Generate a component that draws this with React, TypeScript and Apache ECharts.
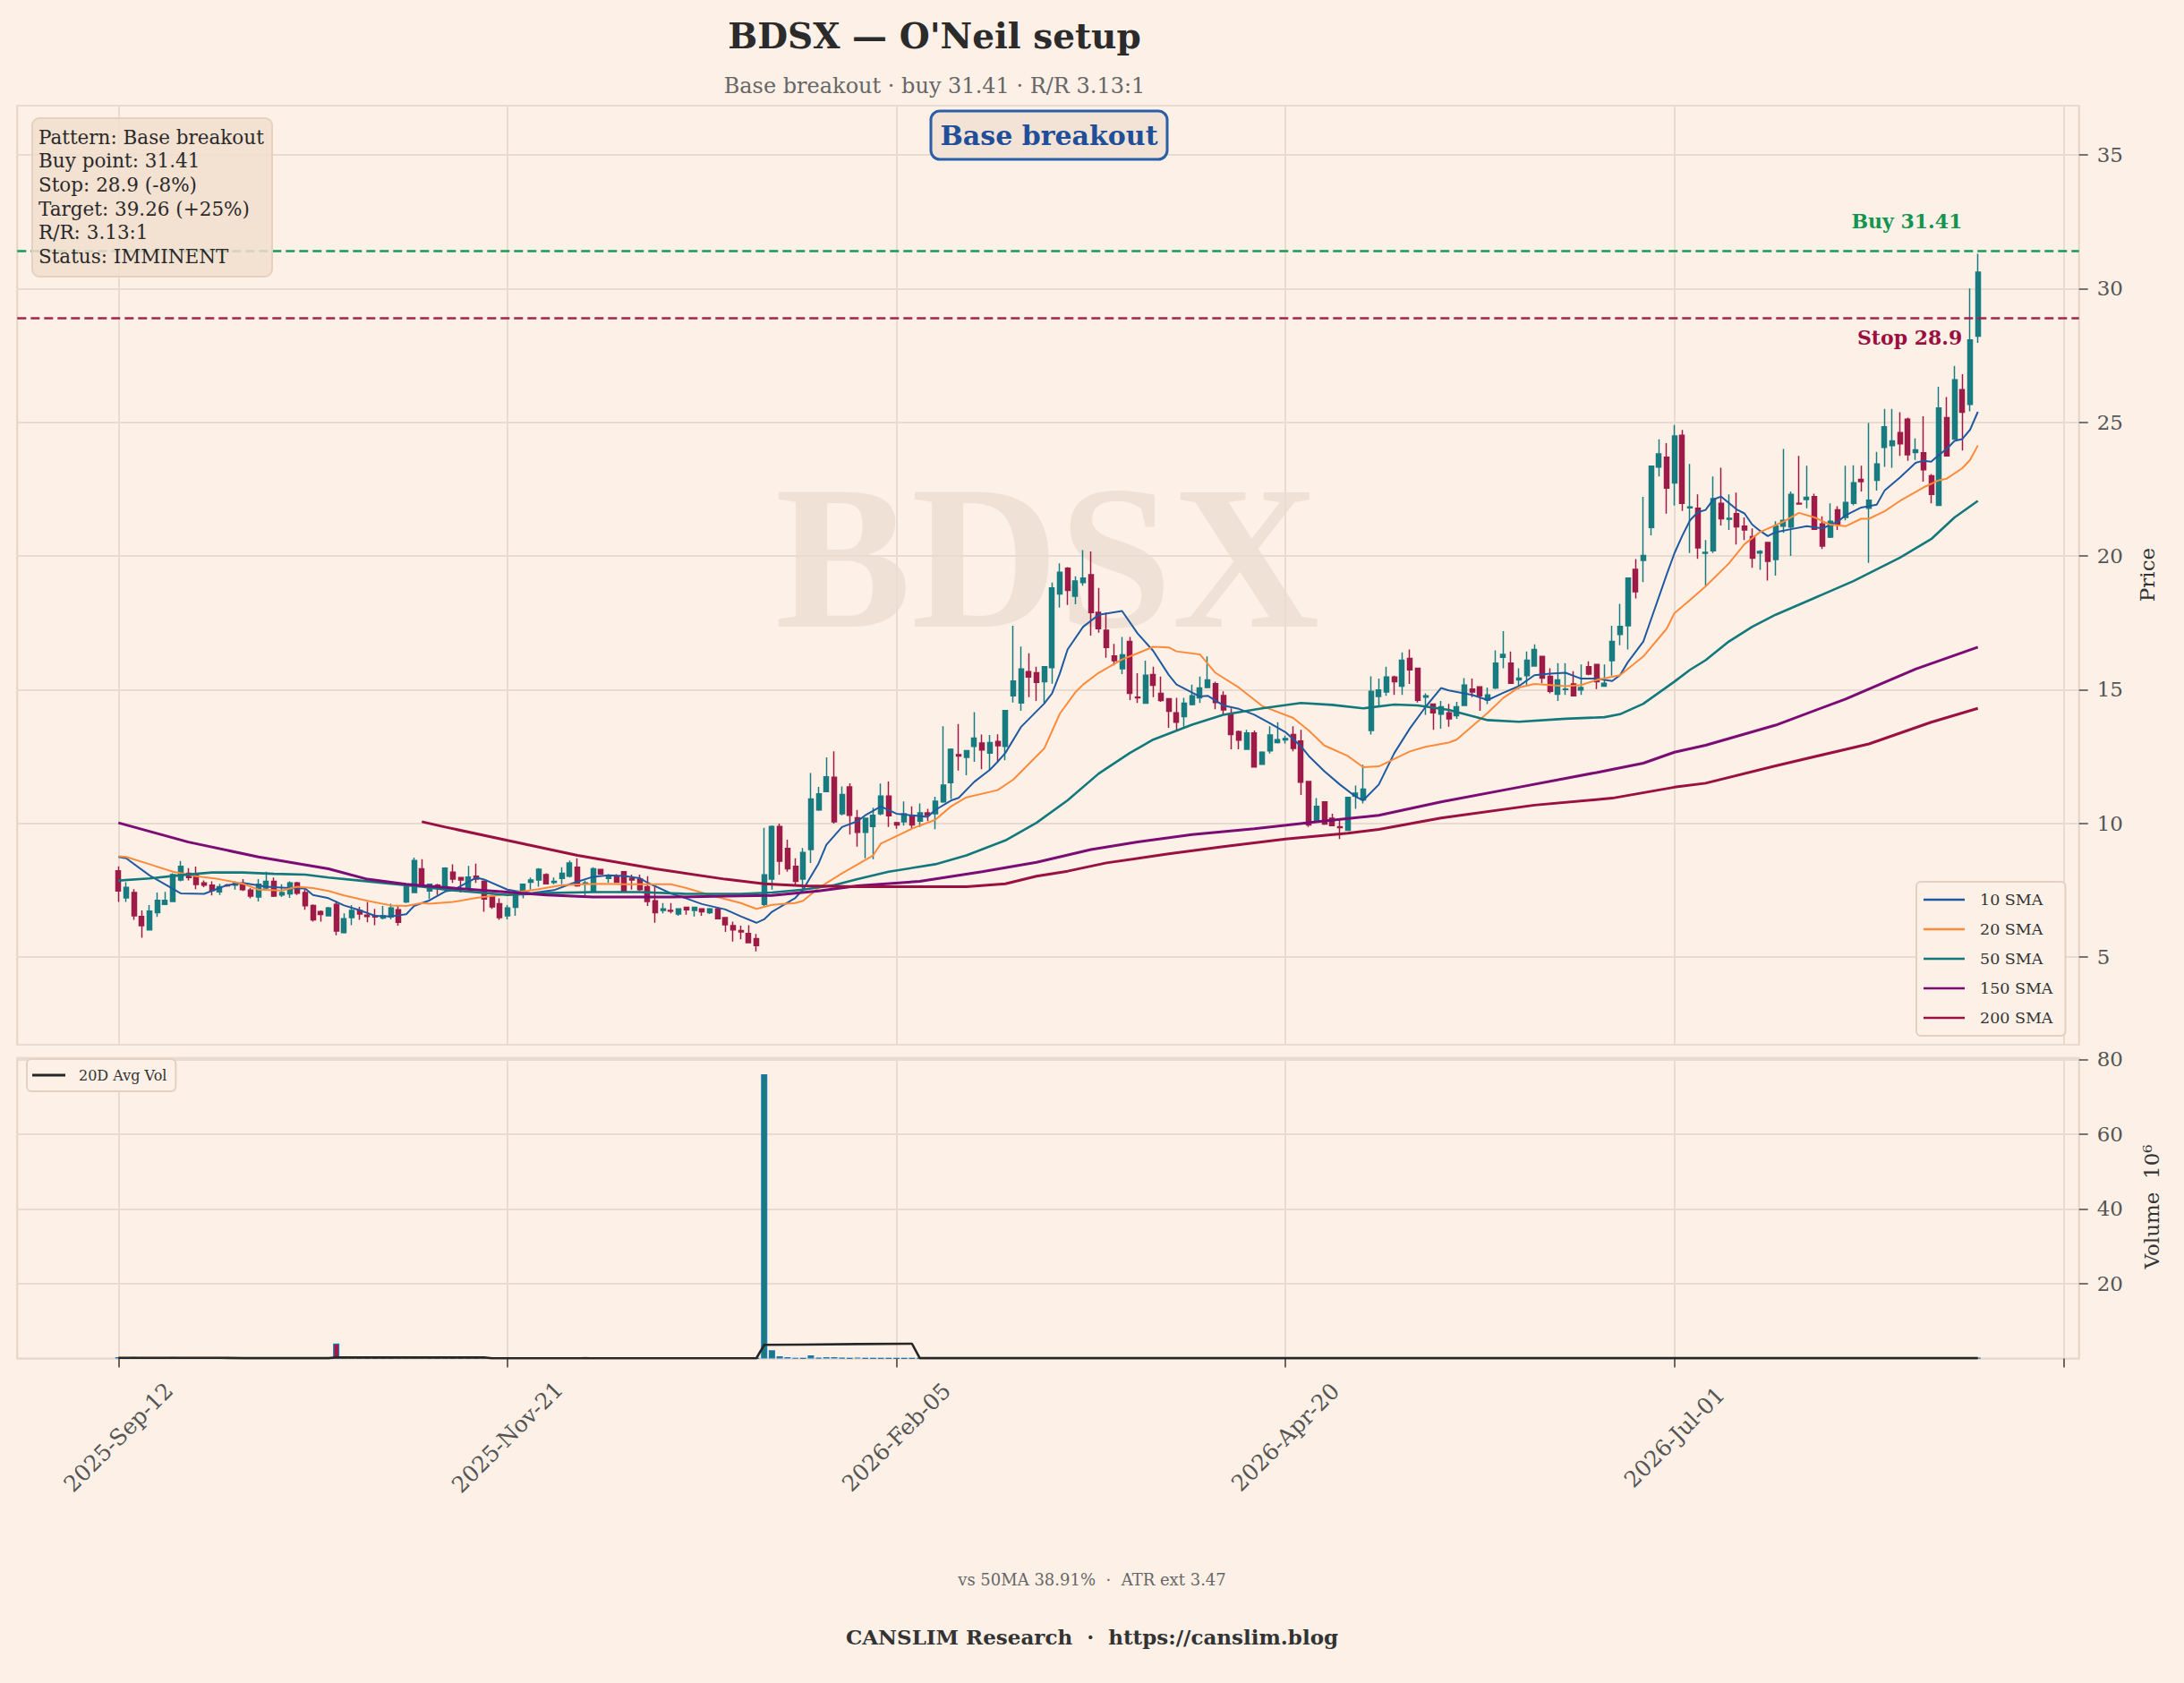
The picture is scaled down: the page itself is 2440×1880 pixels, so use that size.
import React, { useEffect, useRef } from 'react';
import * as echarts from 'echarts';

// ---------------- data ----------------
const tickIdx = [0, 50, 100, 150, 200, 250];
const tickLabels = ['2025-Sep-12', '2025-Nov-21', '2026-Feb-05', '2026-Apr-20', '2026-Jul-01', ''];

const opens = [
  8.22, 7.21, 7.41, 6.52, 6.01, 6.66, 6.97, 7.08, 7.88, 8.13,
  8.08, 7.77, 7.69, 7.44, 7.69, 7.69, 7.72, 7.50, 7.24, 7.58,
  7.83, 7.32, 7.36, 7.77, 7.41, 6.93, 6.70, 6.54, 6.97, 5.91,
  6.47, 6.74, 6.57, 6.54, 6.46, 6.50, 6.77, 7.06, 7.41, 8.30,
  7.47, 7.69, 7.58, 8.17, 7.97, 7.58, 8.02, 7.83, 7.24, 6.99,
  6.54, 6.86, 7.43, 7.80, 7.88, 8.08, 7.79, 7.94, 8.02, 8.36,
  7.74, 7.47, 8.27, 7.94, 8.02, 8.19, 7.94, 7.91, 7.63, 7.10,
  6.74, 6.74, 6.61, 6.86, 6.74, 6.80, 6.66, 6.80, 6.47, 6.17,
  5.99, 5.88, 5.69, 6.97, 7.91, 9.88, 9.06, 8.39, 7.91, 9.02,
  10.50, 11.19, 11.72, 10.36, 11.36, 10.21, 9.66, 9.88, 10.36, 11.02,
  10.02, 10.06, 10.30, 10.08, 10.39, 10.36, 10.80, 11.52, 12.57, 12.47,
  12.88, 13.00, 12.63, 13.06, 12.88, 14.77, 14.50, 15.67, 15.63, 15.30,
  15.82, 18.58, 19.54, 18.49, 19.00, 19.30, 17.89, 17.22, 16.26, 15.78,
  16.80, 14.72, 14.49, 15.56, 14.86, 14.66, 14.13, 13.99, 14.44, 14.69,
  15.08, 15.22, 14.78, 14.06, 13.43, 12.77, 13.38, 12.21, 12.71, 13.02,
  13.12, 13.32, 13.08, 11.56, 10.10, 10.80, 10.19, 9.87, 9.74, 11.02,
  10.88, 13.47, 14.74, 14.91, 15.47, 15.13, 16.17, 15.80, 14.72, 14.46,
  14.08, 14.13, 14.02, 14.41, 15.02, 15.10, 14.61, 15.06, 16.21, 15.99,
  15.36, 15.52, 15.88, 16.24, 15.50, 14.83, 15.00, 15.21, 14.99, 15.86,
  15.94, 15.13, 16.08, 17.06, 17.39, 19.50, 19.83, 21.06, 23.32, 23.69,
  22.73, 24.51, 21.80, 21.78, 20.10, 20.19, 21.97, 21.37, 21.58, 21.11,
  20.72, 20.11, 20.50, 19.87, 21.11, 21.08, 21.97, 22.11, 22.22, 21.20,
  20.70, 21.72, 21.44, 21.97, 22.86, 21.78, 22.83, 24.06, 24.13, 24.61,
  25.11, 23.87, 23.86, 23.00, 21.89, 25.17, 24.37, 26.22, 25.67, 28.22,
];
const closes = [
  7.47, 7.60, 6.54, 6.17, 6.72, 7.12, 7.12, 8.08, 8.39, 7.97,
  7.71, 7.69, 7.49, 7.63, 7.66, 7.77, 7.52, 7.28, 7.72, 7.83,
  7.28, 7.41, 7.77, 7.39, 6.92, 6.39, 6.59, 6.83, 5.97, 6.43,
  6.74, 6.61, 6.52, 6.50, 6.54, 6.83, 6.30, 7.63, 8.61, 7.74,
  7.72, 7.62, 8.32, 7.91, 7.88, 7.99, 7.91, 7.17, 6.88, 6.47,
  6.83, 7.30, 7.72, 7.88, 8.28, 7.74, 7.83, 8.13, 8.52, 7.66,
  7.77, 8.30, 8.10, 8.06, 7.80, 7.47, 7.88, 7.52, 7.08, 6.66,
  6.80, 6.72, 6.80, 6.77, 6.86, 6.69, 6.80, 6.43, 6.21, 6.01,
  5.94, 5.54, 5.43, 8.07, 9.88, 8.58, 8.30, 7.83, 8.91, 10.91,
  11.10, 11.74, 10.06, 11.08, 10.30, 9.66, 10.19, 10.30, 11.02, 10.28,
  9.94, 10.36, 9.94, 10.39, 10.30, 10.83, 11.43, 12.77, 12.52, 12.72,
  13.19, 12.74, 13.02, 12.90, 14.22, 15.32, 15.77, 15.47, 15.27, 15.86,
  18.80, 19.39, 18.71, 19.06, 19.17, 17.88, 17.28, 16.58, 16.08, 16.30,
  14.86, 14.69, 15.54, 15.16, 14.59, 14.19, 13.78, 14.49, 14.77, 15.06,
  15.36, 14.52, 14.24, 13.32, 13.11, 13.38, 12.11, 12.66, 13.30, 13.13,
  13.17, 12.80, 11.54, 9.94, 10.63, 9.97, 9.91, 9.84, 10.97, 11.13,
  11.28, 14.94, 14.99, 15.47, 15.30, 16.10, 15.74, 14.60, 14.77, 14.13,
  14.36, 13.91, 14.36, 15.17, 14.91, 14.77, 14.80, 15.99, 16.32, 15.24,
  15.43, 16.10, 16.50, 15.43, 14.94, 15.36, 15.02, 14.77, 15.08, 15.58,
  15.30, 15.24, 16.80, 17.36, 19.17, 18.66, 20.02, 23.36, 23.82, 22.54,
  24.49, 21.97, 21.83, 20.30, 20.13, 22.14, 21.39, 21.41, 21.09, 20.97,
  19.92, 20.17, 19.80, 21.11, 21.33, 22.30, 21.94, 22.19, 21.00, 20.37,
  21.30, 21.17, 22.00, 22.74, 22.78, 22.08, 23.44, 24.83, 24.30, 24.19,
  23.78, 23.97, 23.22, 22.30, 25.53, 23.74, 26.59, 25.37, 28.08, 30.61,
];
const highs = [
  8.39, 7.80, 7.54, 6.74, 6.94, 7.41, 7.44, 8.13, 8.59, 8.32,
  8.38, 7.86, 7.83, 7.74, 7.74, 7.83, 7.91, 7.58, 7.91, 8.19,
  7.97, 7.72, 7.83, 7.81, 7.58, 6.97, 6.74, 6.88, 7.10, 6.63,
  6.94, 6.88, 7.06, 6.80, 6.91, 6.99, 6.91, 7.72, 8.72, 8.66,
  7.74, 7.74, 8.36, 8.47, 7.97, 8.41, 8.49, 7.86, 7.32, 7.19,
  6.94, 7.36, 7.74, 7.97, 8.32, 8.13, 7.97, 8.36, 8.61, 8.69,
  7.86, 8.36, 8.28, 8.10, 8.10, 8.21, 8.08, 8.08, 8.02, 7.63,
  7.02, 7.02, 6.82, 6.88, 6.88, 6.80, 6.83, 6.88, 6.47, 6.32,
  6.17, 6.19, 5.86, 9.83, 9.92, 9.99, 9.39, 8.69, 9.08, 11.88,
  11.36, 12.47, 12.69, 11.38, 11.50, 10.50, 10.21, 10.58, 11.49, 11.56,
  10.06, 10.82, 10.63, 10.74, 10.54, 10.99, 13.63, 12.80, 13.71, 12.74,
  14.16, 13.32, 13.30, 13.33, 14.22, 17.39, 16.61, 16.36, 15.86, 15.86,
  19.00, 19.72, 19.58, 19.24, 20.22, 20.17, 18.80, 17.88, 16.71, 16.97,
  16.97, 15.61, 16.08, 15.86, 15.49, 14.67, 14.69, 14.69, 15.19, 15.49,
  16.24, 15.30, 14.94, 14.30, 13.47, 13.50, 13.47, 12.69, 13.63, 13.78,
  13.28, 13.63, 13.50, 11.58, 10.94, 10.80, 10.36, 10.13, 10.97, 11.41,
  12.19, 15.50, 15.41, 15.86, 15.52, 16.39, 16.50, 15.80, 14.86, 14.47,
  14.58, 14.47, 14.54, 15.43, 15.41, 15.10, 15.08, 16.47, 17.19, 16.43,
  15.80, 16.43, 16.69, 16.24, 15.80, 15.99, 15.99, 15.69, 15.94, 16.06,
  15.94, 15.94, 17.39, 18.21, 19.17, 19.88, 22.21, 23.36, 24.36, 24.22,
  24.90, 24.71, 23.44, 22.30, 20.59, 22.97, 23.30, 22.30, 22.37, 21.44,
  21.03, 20.22, 20.52, 21.30, 24.00, 22.41, 23.74, 23.37, 22.33, 21.48,
  21.97, 21.86, 23.37, 23.39, 23.37, 24.97, 23.89, 25.50, 25.50, 25.37,
  25.17, 24.39, 25.22, 23.06, 26.33, 25.94, 27.11, 26.80, 30.00, 31.30,
];
const lows = [
  7.06, 7.06, 6.39, 5.72, 5.99, 6.50, 6.95, 7.06, 7.83, 7.86,
  7.54, 7.61, 7.30, 7.32, 7.63, 7.52, 7.47, 7.19, 7.08, 7.54,
  7.24, 7.24, 7.21, 7.32, 6.77, 6.32, 6.32, 6.52, 5.81, 5.88,
  6.19, 6.39, 6.30, 6.19, 6.41, 6.41, 6.17, 7.02, 7.39, 7.66,
  7.17, 7.32, 7.54, 7.77, 7.41, 7.52, 7.77, 6.69, 6.80, 6.39,
  6.41, 6.54, 7.19, 7.52, 7.63, 7.72, 7.72, 7.72, 7.97, 7.63,
  7.30, 7.41, 8.08, 7.77, 7.77, 7.47, 7.52, 7.47, 6.91, 6.28,
  6.63, 6.63, 6.54, 6.58, 6.52, 6.54, 6.61, 6.41, 5.94, 5.58,
  5.66, 5.52, 5.21, 6.91, 7.52, 8.08, 8.19, 7.69, 7.41, 8.52,
  10.47, 11.17, 9.99, 10.30, 9.58, 9.13, 8.69, 8.66, 10.30, 9.86,
  9.80, 9.91, 9.80, 9.86, 10.08, 9.78, 10.77, 10.91, 11.97, 11.80,
  12.30, 12.02, 11.97, 12.32, 12.36, 14.52, 14.21, 14.72, 14.58, 14.50,
  15.22, 18.07, 18.17, 18.19, 18.89, 17.02, 17.13, 16.19, 15.91, 15.58,
  14.61, 14.50, 14.47, 14.72, 14.54, 13.57, 13.47, 13.61, 14.41, 14.50,
  15.06, 14.27, 14.06, 12.77, 12.77, 12.74, 12.10, 12.19, 12.61, 12.99,
  12.99, 12.69, 11.06, 9.86, 10.02, 9.94, 9.91, 9.41, 9.74, 10.54,
  10.74, 13.32, 14.41, 14.77, 14.80, 14.80, 15.21, 14.52, 14.06, 13.50,
  13.54, 13.61, 13.91, 14.39, 14.72, 14.21, 14.46, 15.02, 15.80, 15.21,
  15.02, 15.17, 15.86, 15.24, 14.86, 14.58, 14.80, 14.77, 14.80, 15.54,
  15.02, 15.13, 15.52, 16.66, 16.50, 18.41, 19.02, 20.77, 22.97, 21.58,
  21.88, 21.68, 20.11, 19.89, 18.89, 20.11, 21.14, 20.97, 20.43, 20.59,
  19.56, 19.48, 19.08, 19.26, 20.86, 20.00, 21.94, 21.78, 20.97, 20.26,
  20.67, 20.97, 21.33, 21.89, 22.41, 19.74, 22.44, 23.33, 23.30, 23.74,
  23.56, 23.59, 22.78, 21.97, 21.89, 23.72, 24.37, 23.94, 25.41, 27.97,
];
// volume, millions of shares
const volumes = [
  0.35, 0.30, 0.40, 0.35, 0.30, 0.30, 0.25, 0.40, 0.35, 0.25,
  0.30, 0.20, 0.25, 0.20, 0.15, 0.15, 0.20, 0.20, 0.25, 0.20,
  0.20, 0.15, 0.20, 0.20, 0.25, 0.30, 0.20, 0.20, 4.00, 0.30,
  0.25, 0.20, 0.20, 0.15, 0.15, 0.20, 0.25, 0.30, 0.35, 0.30,
  0.20, 0.20, 0.25, 0.20, 0.20, 0.20, 0.20, 0.25, 0.10, 0.08,
  0.08, 0.07, 0.08, 0.06, 0.08, 0.07, 0.06, 0.08, 0.09, 0.07,
  0.40, 0.08, 0.06, 0.07, 0.06, 0.08, 0.06, 0.07, 0.08, 0.09,
  0.06, 0.05, 0.06, 0.05, 0.06, 0.05, 0.06, 0.07, 0.08, 0.09,
  0.07, 0.08, 0.09, 76.0, 2.20, 0.60, 0.35, 0.12, 0.10, 0.85,
  0.20, 0.35, 0.35, 0.15, 0.08, 0.25, 0.10, 0.08, 0.10, 0.07,
  0.06, 0.07, 0.06, 0.05, 0.06, 0.07, 0.09, 0.08, 0.07, 0.06,
  0.07, 0.06, 0.06, 0.05, 0.07, 0.09, 0.08, 0.06, 0.05, 0.06,
  0.10, 0.08, 0.07, 0.06, 0.07, 0.08, 0.06, 0.06, 0.05, 0.06,
  0.07, 0.05, 0.06, 0.05, 0.05, 0.06, 0.06, 0.05, 0.05, 0.06,
  0.06, 0.05, 0.05, 0.06, 0.05, 0.05, 0.06, 0.05, 0.05, 0.05,
  0.05, 0.05, 0.07, 0.09, 0.07, 0.06, 0.05, 0.06, 0.08, 0.06,
  0.07, 0.30, 0.10, 0.08, 0.06, 0.07, 0.06, 0.07, 0.05, 0.06,
  0.05, 0.05, 0.05, 0.07, 0.05, 0.05, 0.05, 0.07, 0.08, 0.06,
  0.05, 0.06, 0.06, 0.06, 0.05, 0.05, 0.05, 0.05, 0.05, 0.05,
  0.05, 0.05, 0.08, 0.08, 0.12, 0.09, 0.30, 0.15, 0.10, 0.09,
  0.10, 0.09, 0.08, 0.07, 0.07, 0.08, 0.06, 0.05, 0.06, 0.05,
  0.06, 0.05, 0.06, 0.06, 0.08, 0.07, 0.05, 0.05, 0.06, 0.05,
  0.05, 0.05, 0.06, 0.06, 0.05, 0.09, 0.06, 0.07, 0.06, 0.05,
  0.06, 0.05, 0.06, 0.06, 0.12, 0.08, 0.10, 0.35, 0.15, 0.20,
];
// [bar index, value]
const sma10 = [
  [0, 8.74], [1, 8.69], [4, 8.05], [8, 7.38], [11, 7.36], [14, 7.69], [16, 7.77], [19, 7.63],
  [22, 7.58], [24, 7.56], [25, 7.32], [27, 7.2], [29, 6.93], [31, 6.75], [33, 6.54], [35, 6.52],
  [37, 6.6], [38, 6.91], [40, 7.12], [42, 7.45], [43, 7.5], [46, 7.97], [47, 7.9], [50, 7.52],
  [51, 7.47], [53, 7.39], [56, 7.5], [58, 7.72], [61, 8.0], [63, 8.06], [65, 8.03], [67, 7.95],
  [68, 7.78], [71, 7.38], [73, 7.19], [75, 6.98], [78, 6.78], [80, 6.52], [82, 6.28], [83, 6.41],
  [84, 6.69], [87, 7.21], [88, 7.52], [90, 8.5], [91, 9.2], [93, 9.86], [95, 10.08], [96, 10.3],
  [98, 10.63], [100, 10.36], [102, 10.3], [104, 10.24], [105, 10.5], [107, 10.85], [108, 10.95],
  [110, 11.55], [112, 12.0], [113, 12.3], [114, 12.63], [116, 13.6], [119, 14.48], [120, 14.86],
  [121, 15.6], [122, 16.5], [124, 17.35], [126, 17.8], [129, 17.94], [131, 17.1], [133, 16.45],
  [135, 15.55], [136, 15.19], [139, 14.74], [140, 14.77], [142, 14.41], [144, 14.28], [146, 14.06],
  [148, 13.74], [150, 13.41], [152, 12.88], [153, 12.52], [155, 11.95], [157, 11.45], [159, 11.0],
  [160, 10.86], [162, 11.45], [164, 12.63], [166, 13.55], [168, 14.35], [170, 15.06], [171, 14.97],
  [174, 14.8], [176, 14.61], [178, 14.88], [180, 15.13], [182, 15.54], [184, 15.6], [186, 15.63],
  [188, 15.41], [190, 15.41], [192, 15.32], [193, 15.54], [194, 16.02], [196, 16.8], [197, 17.63],
  [199, 19.3], [200, 20.1], [201, 20.75], [202, 21.33], [203, 21.63], [204, 21.72], [205, 22.11],
  [206, 22.22], [208, 21.74], [209, 21.59], [210, 21.17], [211, 20.94], [212, 20.74], [213, 20.89],
  [215, 21.0], [217, 21.11], [219, 21.03], [221, 21.28], [222, 21.52], [224, 21.81], [226, 21.92],
  [227, 22.44], [229, 22.94], [231, 23.48], [232, 23.56], [233, 23.52], [234, 23.78], [235, 24.0],
  [236, 24.3], [237, 24.37], [238, 24.72], [239, 25.39],
];
const sma20 = [
  [0, 8.77], [1, 8.74], [4, 8.47], [7, 8.19], [10, 8.02], [13, 7.91], [16, 7.74], [18, 7.52],
  [21, 7.49], [23, 7.63], [25, 7.58], [27, 7.47], [29, 7.3], [32, 7.1], [35, 6.93], [37, 6.91],
  [39, 7.02], [40, 6.99], [43, 7.06], [46, 7.21], [49, 7.32], [51, 7.41], [54, 7.54], [57, 7.69],
  [60, 7.72], [62, 7.74], [65, 7.72], [68, 7.72], [71, 7.72], [73, 7.58], [76, 7.32], [80, 7.02],
  [82, 6.8], [84, 6.95], [87, 7.02], [88, 7.1], [90, 7.58], [93, 8.13], [97, 8.8], [98, 9.24],
  [102, 9.8], [105, 10.13], [107, 10.63], [109, 10.97], [113, 11.24], [115, 11.63], [119, 12.8],
  [121, 14.1], [123, 14.9], [124, 15.19], [126, 15.63], [129, 16.13], [131, 16.36], [133, 16.6],
  [135, 16.58], [136, 16.43], [139, 16.32], [141, 15.63], [144, 15.08], [147, 14.39], [151, 13.94],
  [153, 13.47], [155, 12.91], [158, 12.52], [160, 12.1], [162, 12.13], [166, 12.69], [168, 12.86],
  [171, 13.02], [172, 13.13], [176, 14.13], [178, 14.69], [180, 15.08], [182, 15.21], [186, 15.13],
  [188, 15.17], [190, 15.36], [193, 15.54], [196, 16.24], [199, 17.28], [200, 17.86], [202, 18.35],
  [204, 18.86], [207, 19.72], [209, 20.44], [211, 20.89], [214, 21.28], [216, 21.61], [218, 21.44],
  [220, 21.17], [222, 21.11], [224, 21.39], [225, 21.39], [227, 21.67], [229, 22.06], [232, 22.56],
  [234, 22.83], [235, 22.89], [237, 23.28], [238, 23.59], [239, 24.13],
];
const sma50 = [
  [0, 7.86], [4, 7.94], [8, 8.06], [12, 8.16], [16, 8.16], [20, 8.11], [24, 8.08], [27, 7.97],
  [31, 7.86], [35, 7.74], [39, 7.63], [42, 7.52], [44, 7.47], [50, 7.32], [55, 7.39], [61, 7.43],
  [67, 7.43], [73, 7.36], [80, 7.36], [84, 7.41], [88, 7.52], [92, 7.69], [95, 7.91], [99, 8.19],
  [105, 8.47], [109, 8.8], [114, 9.36], [118, 10.02], [122, 10.86], [126, 11.86], [130, 12.63],
  [133, 13.13], [138, 13.69], [142, 14.06], [147, 14.3], [152, 14.5], [156, 14.43], [160, 14.3],
  [164, 14.44], [167, 14.41], [171, 14.24], [176, 13.86], [180, 13.8], [186, 13.91], [191, 13.97],
  [193, 14.08], [196, 14.47], [200, 15.3], [202, 15.74], [204, 16.1], [207, 16.8], [210, 17.35],
  [213, 17.8], [217, 18.3], [223, 19.06], [229, 19.94], [233, 20.63], [236, 21.44], [239, 22.06],
];
const sma150 = [
  [0, 10.02], [9, 9.3], [18, 8.74], [27, 8.3], [32, 7.91], [37, 7.72], [42, 7.6], [48, 7.47],
  [55, 7.32], [61, 7.24], [71, 7.24], [78, 7.28], [84, 7.3], [90, 7.47], [95, 7.66], [103, 7.83],
  [111, 8.19], [118, 8.54], [125, 9.02], [131, 9.3], [138, 9.58], [146, 9.8], [154, 10.06],
  [162, 10.3], [170, 10.8], [180, 11.35], [190, 11.9], [196, 12.25], [200, 12.66], [204, 12.92],
  [213, 13.67], [222, 14.65], [231, 15.77], [239, 16.59],
];
const sma200 = [
  [39, 10.06], [42, 9.86], [50, 9.36], [59, 8.8], [69, 8.3], [78, 7.91], [83, 7.74], [88, 7.66],
  [95, 7.63], [109, 7.63], [114, 7.74], [118, 8.02], [122, 8.21], [127, 8.52], [135, 8.86],
  [142, 9.13], [150, 9.41], [158, 9.63], [162, 9.77], [170, 10.2], [182, 10.68], [192, 10.94],
  [200, 11.35], [204, 11.5], [213, 12.15], [225, 12.97], [233, 13.78], [239, 14.3],
];
const avgVol = [
  [0, 0.18], [13, 0.18], [16, 0.08], [27, 0.08], [28, 0.28], [47, 0.28], [48, 0.06], [82, 0.06],
  [83, 3.64], [88, 3.72], [95, 3.85], [102, 3.95], [103, 0.08], [239, 0.08],
];
const buyPoint = 31.41;
const stopPrice = 28.9;
const infoLines = [
  'Pattern: Base breakout',
  'Buy point: 31.41',
  'Stop: 28.9 (-8%)',
  'Target: 39.26 (+25%)',
  'R/R: 3.13:1',
  'Status: IMMINENT',
];
const titleText = "BDSX \u2014 O'Neil setup";
const subtitleText = 'Base breakout \u00b7 buy 31.41 \u00b7 R/R 3.13:1';
const footStats = 'vs 50MA 38.91%  \u00b7  ATR ext 3.47';
const footBrand = 'CANSLIM Research  \u00b7  https://canslim.blog';

// ---------------- style ----------------
const FONT = '"DejaVu Serif", "Liberation Serif", serif';
const WFONT = '"Liberation Serif", "DejaVu Serif", serif';
const BG = '#fdf1e7';
const GRID = '#e9dbcf';
const UP = '#187b80';
const DOWN = '#9c1b47';
const PAD = 13;
const NCAT = 266;

const cats = Array.from({ length: NCAT }, (_, k) => 'k' + k);
const tickSet = new Set(tickIdx.map((i) => i + PAD));
const labelMap: Record<number, string> = {};
tickIdx.forEach((i, j) => (labelMap[i + PAD] = tickLabels[j]));

function buildOption() {
  const candle = cats.map((_, k) => {
    const i = k - PAD;
    if (i < 0 || i >= opens.length) return '-';
    return [opens[i], closes[i], lows[i], highs[i]];
  });
  const vol = volumes.map((v, i) => ({
    value: [cats[i + PAD], v],
    itemStyle: { color: closes[i] >= opens[i] ? UP : DOWN },
  }));
  const toLine = (arr: number[][]) => arr.map(([i, v]) => [cats[i + PAD], v]);
  const lineSeries = (name: string, arr: number[][], color: string, width: number) => ({
    name,
    type: 'line',
    data: toLine(arr),
    xAxisIndex: 0,
    yAxisIndex: 0,
    showSymbol: false,
    symbol: 'none',
    smooth: false,
    z: 4,
    itemStyle: { color },
    lineStyle: { color, width },
  });
  const catAxisBase = {
    type: 'category',
    data: cats,
    boundaryGap: false,
    axisLine: { show: false },
    splitLine: {
      show: true,
      interval: (idx: number) => tickSet.has(idx),
      lineStyle: { color: GRID, width: 2 },
    },
  };
  return {
    animation: false,
    backgroundColor: BG,
    grid: [
      { left: 19.3, top: 118, width: 2303.4, height: 1049, show: true, borderColor: '#e4d3c6', borderWidth: 2, backgroundColor: 'transparent' },
      { left: 19.3, top: 1181.7, width: 2303.4, height: 335.8, show: true, borderColor: '#e4d3c6', borderWidth: 2, backgroundColor: 'transparent' },
    ],
    xAxis: [
      { ...catAxisBase, gridIndex: 0, axisTick: { show: false }, axisLabel: { show: false } },
      {
        ...catAxisBase,
        gridIndex: 1,
        axisTick: {
          show: true,
          interval: (idx: number) => tickSet.has(idx),
          length: 10,
          lineStyle: { color: '#444', width: 1.6 },
        },
        axisLabel: {
          show: true,
          interval: (idx: number) => tickSet.has(idx),
          formatter: (_v: string, idx: number) => labelMap[idx] ?? '',
          rotate: 45,
          align: 'center',
          verticalAlign: 'middle',
          margin: 88,
          fontFamily: FONT,
          fontSize: 25,
          color: '#555',
        },
      },
    ],
    yAxis: [
      {
        type: 'value',
        gridIndex: 0,
        position: 'right',
        min: 1.72,
        max: 36.84,
        splitNumber: 7,
        axisLine: { show: false },
        axisTick: { show: true, length: 10, lineStyle: { color: '#555', width: 1.6 } },
        axisLabel: {
          show: true,
          showMinLabel: false,
          showMaxLabel: false,
          margin: 20,
          fontFamily: FONT,
          fontSize: 23,
          color: '#555',
          formatter: (v: number) => (Math.abs(v / 5 - Math.round(v / 5)) < 1e-6 ? String(Math.round(v)) : ''),
        },
        splitLine: { show: true, lineStyle: { color: GRID, width: 2 } },
      },
      {
        type: 'value',
        gridIndex: 1,
        position: 'right',
        min: 0,
        max: 80.4,
        interval: 20,
        axisLine: { show: false },
        axisTick: { show: true, length: 10, lineStyle: { color: '#555', width: 1.6 } },
        axisLabel: {
          show: true,
          showMinLabel: false,
          showMaxLabel: false,
          margin: 20,
          fontFamily: FONT,
          fontSize: 23,
          color: '#555',
          formatter: (v: number) => (v > 0 && Math.abs(v % 20) < 1e-6 ? String(v) : ''),
        },
        splitLine: { show: true, lineStyle: { color: GRID, width: 2 } },
      },
    ],
    legend: [
      {
        data: ['10 SMA', '20 SMA', '50 SMA', '150 SMA', '200 SMA'],
        orient: 'vertical',
        left: 2141,
        top: 985,
        icon: 'rect',
        itemWidth: 46,
        itemHeight: 2.5,
        itemGap: 13,
        padding: [10, 14, 10, 8],
        selectedMode: false,
        backgroundColor: 'rgba(253,241,231,0.92)',
        borderColor: '#e2d0c2',
        borderWidth: 2,
        borderRadius: 5,
        textStyle: { fontFamily: FONT, fontSize: 17.5, color: '#333', lineHeight: 20, padding: [0, 0, 0, 12] },
      },
      {
        data: ['20D Avg Vol'],
        orient: 'vertical',
        left: 30,
        top: 1183,
        icon: 'rect',
        itemWidth: 37,
        itemHeight: 3,
        padding: [9, 10, 9, 6],
        selectedMode: false,
        backgroundColor: 'rgba(253,241,231,0.92)',
        borderColor: '#e2d0c2',
        borderWidth: 2,
        borderRadius: 5,
        textStyle: { fontFamily: FONT, fontSize: 16, color: '#333', lineHeight: 18, padding: [0, 0, 0, 10] },
      },
    ],
    series: [
      {
        name: 'Price',
        type: 'candlestick',
        xAxisIndex: 0,
        yAxisIndex: 0,
        data: candle,
        barWidth: 5.5,
        z: 3,
        itemStyle: { color: UP, color0: DOWN, borderColor: UP, borderColor0: DOWN, borderWidth: 1.5 },
        markLine: {
          silent: true,
          symbol: ['none', 'none'],
          label: { show: false },
          data: [
            { yAxis: buyPoint, lineStyle: { color: '#17995a', type: [10, 5], width: 2.5 } },
            { yAxis: stopPrice, lineStyle: { color: '#a3244f', type: [10, 5], width: 2.5 } },
          ],
        },
        markPoint: {
          silent: true,
          symbol: 'circle',
          symbolSize: 1,
          itemStyle: { color: 'rgba(0,0,0,0)' },
          data: [
            {
              coord: [cats[237 + PAD], buyPoint],
              label: {
                show: true, formatter: 'Buy 31.41', position: 'inside', align: 'right', verticalAlign: 'middle',
                offset: [0, -33], fontFamily: FONT, fontSize: 22, fontWeight: 'bold', color: '#13954f',
              },
            },
            {
              coord: [cats[237 + PAD], stopPrice],
              label: {
                show: true, formatter: 'Stop 28.9', position: 'inside', align: 'right', verticalAlign: 'middle',
                offset: [0, 22], fontFamily: FONT, fontSize: 22, fontWeight: 'bold', color: '#9b0f3f',
              },
            },
          ],
        },
      },
      lineSeries('10 SMA', sma10, '#1f5aa0', 2),
      lineSeries('20 SMA', sma20, '#ff8a3a', 2),
      lineSeries('50 SMA', sma50, '#12787b', 2.6),
      lineSeries('150 SMA', sma150, '#7a0c74', 3),
      lineSeries('200 SMA', sma200, '#9a1040', 3),
      {
        name: 'Volume',
        type: 'bar',
        xAxisIndex: 1,
        yAxisIndex: 1,
        data: vol,
        barWidth: 7,
        z: 3,
        itemStyle: { borderColor: '#1f77b4', borderWidth: 1.2 },
      },
      {
        name: '20D Avg Vol',
        type: 'line',
        xAxisIndex: 1,
        yAxisIndex: 1,
        data: toLine(avgVol),
        showSymbol: false,
        symbol: 'none',
        z: 4,
        itemStyle: { color: '#262626' },
        lineStyle: { color: '#262626', width: 2.6 },
      },
    ],
    graphic: [
      {
        type: 'text', z: -10, silent: true,
        style: { text: 'BDSX', x: 1170, y: 623, align: 'center', verticalAlign: 'middle', fontFamily: WFONT, fontWeight: 'bold', fontSize: 228, fill: '#efe1d5' },
      },
      {
        type: 'text', silent: true,
        style: { text: titleText, x: 1044, y: 40, align: 'center', verticalAlign: 'middle', fontFamily: FONT, fontWeight: 'bold', fontSize: 39, fill: '#2b2b2b' },
      },
      {
        type: 'text', silent: true,
        style: { text: subtitleText, x: 1044, y: 96, align: 'center', verticalAlign: 'middle', fontFamily: FONT, fontSize: 24, fill: '#666' },
      },
      {
        type: 'rect', z: 100, silent: true,
        shape: { x: 36, y: 132, width: 268, height: 177, r: 8 },
        style: { fill: 'rgba(241,222,206,0.85)', stroke: '#e6d0bf', lineWidth: 2 },
      },
      {
        type: 'text', z: 101, silent: true,
        style: { text: infoLines.join('\n'), x: 43, y: 140, align: 'left', verticalAlign: 'top', lineHeight: 26.6, fontFamily: FONT, fontSize: 21.5, fill: '#2a2a2a' },
      },
      {
        type: 'rect', z: 100, silent: true,
        shape: { x: 1040, y: 124, width: 264, height: 54, r: 10 },
        style: { fill: '#f3e2d6', stroke: '#2a5ea6', lineWidth: 3 },
      },
      {
        type: 'text', z: 101, silent: true,
        style: { text: 'Base breakout', x: 1172, y: 151, align: 'center', verticalAlign: 'middle', fontFamily: FONT, fontWeight: 'bold', fontSize: 30, fill: '#1f4f98' },
      },
      {
        type: 'text', silent: true, rotation: Math.PI / 2, x: 2399, y: 642,
        style: { text: 'Price', x: 0, y: 0, align: 'center', verticalAlign: 'middle', fontFamily: FONT, fontSize: 23, fill: '#333' },
      },
      {
        type: 'text', silent: true, rotation: Math.PI / 2, x: 2404, y: 1348,
        style: { text: 'Volume  10\u2076', x: 0, y: 0, align: 'center', verticalAlign: 'middle', fontFamily: FONT, fontSize: 23, fill: '#333' },
      },
      {
        type: 'text', silent: true,
        style: { text: footStats, x: 1220, y: 1764, align: 'center', verticalAlign: 'middle', fontFamily: FONT, fontSize: 18, fill: '#666' },
      },
      {
        type: 'text', silent: true,
        style: { text: footBrand, x: 1220, y: 1828, align: 'center', verticalAlign: 'middle', fontFamily: FONT, fontWeight: 'bold', fontSize: 23, fill: '#333' },
      },
    ],
  };
}

export default function App() {
  const ref = useRef<HTMLDivElement>(null);
  useEffect(() => {
    document.body.style.margin = '0';
    document.body.style.background = BG;
    const chart = echarts.init(ref.current as HTMLDivElement, null, { renderer: 'svg' });
    chart.setOption(buildOption() as any);
    return () => chart.dispose();
  }, []);
  return <div ref={ref} style={{ width: 2440, height: 1880, background: BG }} />;
}
